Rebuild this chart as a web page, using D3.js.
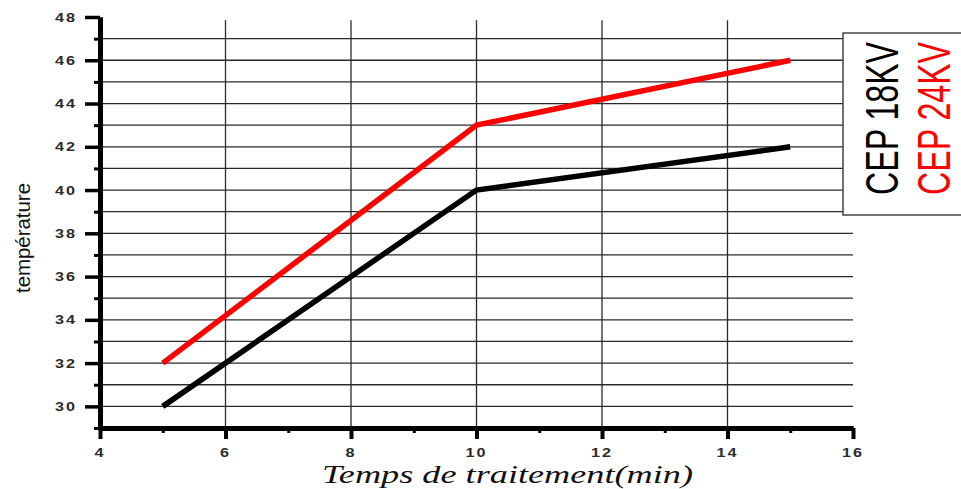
<!DOCTYPE html>
<html>
<head>
<meta charset="utf-8">
<script src="https://cdn.jsdelivr.net/npm/d3@7"></script>
<style>
  body { margin: 0; background: #fff; }
  svg { display: block; }
</style>
</head>
<body>
<script>
// data
var times = [5, 10, 15];
var cep18 = [30, 40, 42];
var cep24 = [32, 43, 46];
var seriesNames = ["CEP 18KV", "CEP 24KV"];
var seriesColors = ["#000", "#ff0000"];
var xTicks = [4, 6, 8, 10, 12, 14, 16];
var xMinor = [5, 7, 9, 11, 13, 15];
var xGrid = [6, 8, 10, 12, 14];
var yTicks = [30, 32, 34, 36, 38, 40, 42, 44, 46, 48];
var yMinor = [29, 31, 33, 35, 37, 39, 41, 43, 45, 47];
var yGrid = [30, 31, 32, 33, 34, 35, 36, 37, 38, 39, 40, 41, 42, 43, 44, 45, 46, 47];

var W = 961, H = 489;
var stretch = 1.35; // the original picture is stretched sideways

var svg = d3.select("body").append("svg")
    .attr("width", W)
    .attr("height", H);

// scales
var x = d3.scaleLinear().domain([4, 16]).range([100, 853]);
var y = d3.scaleLinear().domain([29, 48]).range([428, 17]);

// grid
svg.append("g").selectAll("line")
    .data(yGrid)
  .enter().append("line")
    .attr("x1", x(4)).attr("x2", x(16))
    .attr("y1", function(d) { return y(d); })
    .attr("y2", function(d) { return y(d); })
    .attr("stroke", "#2a2a2a")
    .attr("stroke-width", 1.3);

svg.append("g").selectAll("line")
    .data(xGrid)
  .enter().append("line")
    .attr("x1", function(d) { return x(d); })
    .attr("x2", function(d) { return x(d); })
    .attr("y1", y(47.85)).attr("y2", y(29))
    .attr("stroke", "#2a2a2a")
    .attr("stroke-width", 1.3);

// the lines
var line = d3.line()
    .x(function(d) { return x(d[0]); })
    .y(function(d) { return y(d[1]); });

[cep18, cep24].forEach(function(vals, i) {
  svg.append("path")
      .datum(times.map(function(t, j) { return [t, vals[j]]; }))
      .attr("fill", "none")
      .attr("stroke", seriesColors[i])
      .attr("stroke-width", 5.5)
      .attr("d", line);
});

// axes: major and minor ticks, labels drawn apart because of the stretch
function styleAxis(g, w) {
  g.select(".domain").attr("stroke", "#000").attr("stroke-width", 5);
  g.selectAll(".tick line").attr("stroke", "#000").attr("stroke-width", w);
  g.selectAll(".tick text").remove();
}

svg.append("g")
    .attr("transform", "translate(0," + y(29) + ")")
    .call(d3.axisBottom(x).tickValues(xMinor).tickSize(5).tickSizeOuter(0))
    .call(styleAxis, 3);
svg.append("g")
    .attr("transform", "translate(0," + y(29) + ")")
    .call(d3.axisBottom(x).tickValues(xTicks).tickSize(11).tickSizeOuter(0))
    .call(styleAxis, 4);

svg.append("g")
    .attr("transform", "translate(" + x(4) + ",0)")
    .call(d3.axisLeft(y).tickValues(yMinor).tickSize(6).tickSizeOuter(0))
    .call(styleAxis, 3);
svg.append("g")
    .attr("transform", "translate(" + x(4) + ",0)")
    .call(d3.axisLeft(y).tickValues(yTicks).tickSize(15).tickSizeOuter(0))
    .call(styleAxis, 3.5);

// tick labels
svg.append("g").selectAll("text")
    .data(yTicks)
  .enter().append("text")
    .attr("transform", function(d) { return "translate(77," + (y(d) + 4.5) + ") scale(" + stretch + ",1)"; })
    .attr("text-anchor", "end")
    .style("font", "bold 12px 'Liberation Sans', Arial, sans-serif")
    .style("letter-spacing", "1.5px")
    .attr("fill", "#2b2b2b")
    .text(function(d) { return d; });

svg.append("g").selectAll("text")
    .data(xTicks)
  .enter().append("text")
    .attr("transform", function(d) { return "translate(" + x(d) + ",457) scale(" + stretch + ",1)"; })
    .attr("text-anchor", "middle")
    .style("font", "bold 12px 'Liberation Sans', Arial, sans-serif")
    .style("letter-spacing", "1.5px")
    .attr("fill", "#2b2b2b")
    .text(function(d) { return d; });

// axis titles
svg.append("text")
    .attr("x", 322)
    .attr("y", 483)
    .attr("textLength", 371)
    .attr("lengthAdjust", "spacingAndGlyphs")
    .style("font", "italic 25px 'Liberation Serif', 'Times New Roman', serif")
    .attr("fill", "#111")
    .text("Temps de traitement(min)");

svg.append("text")
    .attr("transform", "translate(30,293) scale(" + stretch + ",1) rotate(-90)")
    .attr("textLength", 110)
    .attr("lengthAdjust", "spacingAndGlyphs")
    .style("font", "15px 'Liberation Sans', Arial, sans-serif")
    .attr("fill", "#111")
    .text("température");

// legend box on the right, cut by the picture edge
svg.append("rect")
    .attr("x", 843).attr("y", 33)
    .attr("width", 140).attr("height", 182)
    .attr("fill", "#fff")
    .attr("stroke", "#444")
    .attr("stroke-width", 1.5);

svg.append("g").selectAll("text")
    .data(seriesNames)
  .enter().append("text")
    .attr("transform", function(d, i) { return "translate(" + (898 + i * 52) + ",195) scale(1.5,1) rotate(-90)"; })
    .attr("textLength", 153)
    .attr("lengthAdjust", "spacingAndGlyphs")
    .style("font", "31px 'Liberation Sans', Arial, sans-serif")
    .attr("fill", function(d, i) { return seriesColors[i]; })
    .text(function(d) { return d; });
</script>
</body>
</html>
